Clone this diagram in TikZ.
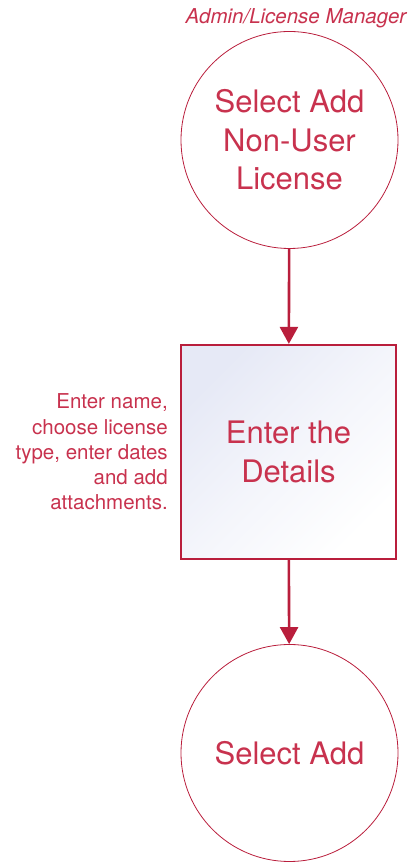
\documentclass[tikz,border=0pt]{standalone}
\usepackage{fontspec}
\setmainfont{TeX Gyre Heros}
\usetikzlibrary{arrows.meta,positioning}
\definecolor{crimson}{RGB}{185,30,60}
\definecolor{rosetext}{RGB}{200,50,78}
\definecolor{lavender}{RGB}{230,233,246}
\tikzset{%
  >={Triangle[width=18pt,length=17pt]}, % big filled tips
  step circle/.style={circle,draw=crimson,line width=0.8pt,minimum size=217pt,
    inner sep=0pt,text=rosetext,align=center,font=\fontsize{31}{38.5}\selectfont},
  step box/.style={rectangle,draw=crimson,line width=2.2pt,minimum width=215pt,
    minimum height=214pt,inner sep=0pt,text=rosetext,align=center,
    top color=lavender,bottom color=white,middle color=white!55!lavender,
    shading angle=45,font=\fontsize{31}{39}\selectfont},
  flow/.style={->,draw=crimson,line width=2.6pt},
  side note/.style={inner sep=0pt,text=rosetext,align=right,
    font=\fontsize{20.5}{25.2}\selectfont},
  role/.style={inner sep=0pt,text=rosetext,font=\fontsize{20.5}{23}\itshape}
}
\begin{document}
\begin{tikzpicture}[x=1pt,y=1pt] % license flow

    \useasboundingbox (0,0) rectangle (416,862);

    \node[role] (Role) at (296,844) {Admin/License Manager};

    \node[step circle] (SelectNonUser) at (289.5,722) {Select Add\\Non-User\\License};
    \node[step box] (Details) at (288.5,410) {Enter the\\Details};
    \node[step circle] (SelectAdd) at (289.5,109) {Select Add};

    \node[side note,left=12pt of Details] (DetailsNote)
      {Enter name,\\choose license\\type, enter dates\\and add\\attachments.};

    \draw[flow] (SelectNonUser) -- (Details);
    \draw[flow] (Details) -- (SelectAdd);

\end{tikzpicture}
\end{document}
